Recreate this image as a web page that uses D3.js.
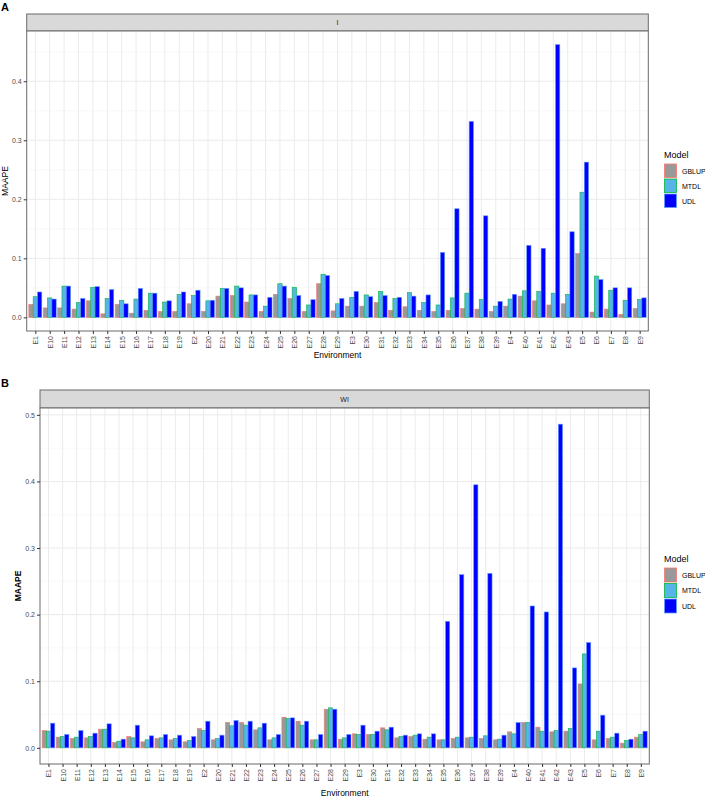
<!DOCTYPE html>
<html>
<head>
<meta charset="utf-8">
<script src="https://cdn.jsdelivr.net/npm/d3@7"></script>
<style>
  html, body { margin: 0; padding: 0; background: #ffffff; }
  svg { display: block; font-family: "Liberation Sans", Arial, sans-serif; }
</style>
</head>
<body>
<svg id="chart" width="705" height="798"></svg>
<script>
// ---------------- DATA ----------------
const environments = ["E1","E10","E11","E12","E13","E14","E15","E16","E17","E18","E19",
  "E2","E20","E21","E22","E23","E24","E25","E26","E27","E28","E29",
  "E3","E30","E31","E32","E33","E34","E35","E36","E37","E38","E39",
  "E4","E40","E41","E42","E43","E5","E6","E7","E8","E9"];
const models = ["GBLUP", "MTDL", "UDL"];

// Panel A: "I"
const gblupI = [0.022,0.016,0.016,0.014,0.028,0.006,0.022,0.007,0.012,0.010,0.010,
  0.023,0.010,0.036,0.037,0.026,0.010,0.039,0.032,0.010,0.057,0.011,
  0.019,0.019,0.025,0.012,0.018,0.012,0.010,0.012,0.015,0.014,0.010,
  0.019,0.036,0.028,0.021,0.023,0.108,0.009,0.014,0.005,0.015];
const mtdlI = [0.035,0.033,0.053,0.025,0.051,0.032,0.029,0.031,0.041,0.026,0.039,
  0.037,0.028,0.049,0.053,0.038,0.019,0.057,0.051,0.021,0.073,0.023,
  0.034,0.038,0.044,0.032,0.042,0.025,0.021,0.033,0.041,0.030,0.019,
  0.031,0.045,0.044,0.041,0.039,0.212,0.070,0.046,0.029,0.030];
const udlI = [0.043,0.031,0.053,0.032,0.052,0.047,0.023,0.049,0.041,0.028,0.043,
  0.046,0.029,0.049,0.050,0.038,0.034,0.053,0.037,0.030,0.071,0.032,
  0.044,0.035,0.037,0.034,0.036,0.038,0.110,0.184,0.332,0.172,0.027,
  0.039,0.122,0.117,0.462,0.145,0.263,0.064,0.050,0.050,0.033];

// Panel B: "WI"
const gblupWI = [0.026,0.016,0.014,0.015,0.028,0.008,0.017,0.009,0.014,0.012,0.009,
  0.029,0.012,0.038,0.038,0.027,0.012,0.046,0.040,0.012,0.058,0.013,
  0.021,0.020,0.030,0.015,0.017,0.013,0.012,0.014,0.015,0.014,0.012,
  0.024,0.038,0.031,0.024,0.025,0.096,0.012,0.014,0.007,0.016];
const mtdlWI = [0.025,0.017,0.016,0.017,0.028,0.010,0.015,0.012,0.015,0.014,0.011,
  0.026,0.014,0.033,0.034,0.030,0.015,0.044,0.034,0.012,0.060,0.015,
  0.020,0.020,0.027,0.017,0.019,0.016,0.012,0.016,0.016,0.018,0.013,
  0.021,0.038,0.025,0.026,0.029,0.141,0.025,0.016,0.011,0.020];
const udlWI = [0.037,0.020,0.026,0.022,0.036,0.013,0.034,0.018,0.020,0.019,0.017,
  0.040,0.019,0.041,0.040,0.037,0.020,0.045,0.040,0.020,0.058,0.020,
  0.034,0.025,0.031,0.019,0.021,0.021,0.190,0.260,0.395,0.262,0.019,
  0.038,0.213,0.204,0.486,0.120,0.158,0.049,0.022,0.013,0.025];

const yTicksI = [0.0, 0.1, 0.2, 0.3, 0.4];
const yTicksWI = [0.0, 0.1, 0.2, 0.3, 0.4, 0.5];

// ---------------- STYLE ----------------
const fills = { GBLUP: "#999999", MTDL: "#56B4E9", UDL: "#0000FF" };
const strokes = { GBLUP: "#F8766D", MTDL: "#00BA38", UDL: "#619CFF" };

const svg = d3.select("#chart");

function drawPanel(opt) {
  const g = svg.append("g");
  const rows = environments.map((e, i) => ({
    env: e,
    vals: [opt.series[0][i], opt.series[1][i], opt.series[2][i]]
  }));
  const maxV = d3.max(rows, r => d3.max(r.vals));
  const x = d3.scalePoint().domain(environments).range([opt.left, opt.right]).padding(0.6);
  const step = x.step();
  const y = d3.scaleLinear().domain([-0.05 * maxV, 1.05 * maxV]).range([opt.bottom, opt.top]);

  // panel label
  g.append("text").attr("x", opt.labelX).attr("y", opt.labelY)
    .attr("font-size", 11).attr("font-weight", "bold").attr("fill", "#000").text(opt.label);

  // strip
  g.append("rect").attr("x", opt.left).attr("y", opt.stripTop)
    .attr("width", opt.right - opt.left).attr("height", opt.top - opt.stripTop)
    .attr("fill", "#D9D9D9").attr("stroke", "#6b6b6b").attr("stroke-width", 1);
  g.append("text").attr("x", (opt.left + opt.right) / 2).attr("y", (opt.stripTop + opt.top) / 2 + 2.5)
    .attr("text-anchor", "middle").attr("font-size", 7).attr("fill", "#1a1a1a").text(opt.strip);

  // panel background
  g.append("rect").attr("x", opt.left).attr("y", opt.top)
    .attr("width", opt.right - opt.left).attr("height", opt.bottom - opt.top).attr("fill", "#fff");

  // minor grid
  const minor = [];
  for (let i = 0; i < opt.yTicks.length; i++) minor.push(opt.yTicks[i] + 0.05);
  g.selectAll(".ymin").data(minor.filter(v => y(v) > opt.top)).enter().append("line")
    .attr("x1", opt.left).attr("x2", opt.right)
    .attr("y1", d => y(d)).attr("y2", d => y(d))
    .attr("stroke", "#F4F4F4").attr("stroke-width", 0.6);
  // major grid
  g.selectAll(".ymaj").data(opt.yTicks).enter().append("line")
    .attr("x1", opt.left).attr("x2", opt.right)
    .attr("y1", d => y(d)).attr("y2", d => y(d))
    .attr("stroke", "#EBEBEB").attr("stroke-width", 1);
  g.selectAll(".xmaj").data(environments).enter().append("line")
    .attr("x1", d => x(d)).attr("x2", d => x(d))
    .attr("y1", opt.top).attr("y2", opt.bottom)
    .attr("stroke", "#EBEBEB").attr("stroke-width", 1);

  // bars
  const bw = step * 0.3;
  const grp = g.selectAll(".grp").data(rows).enter().append("g");
  grp.selectAll("rect").data(r => r.vals.map((v, k) => ({ env: r.env, v: v, m: models[k], k: k })))
    .enter().append("rect")
    .attr("x", d => x(d.env) - 1.5 * bw + d.k * bw)
    .attr("width", bw)
    .attr("y", d => y(d.v))
    .attr("height", d => y(0) - y(d.v))
    .attr("fill", d => fills[d.m])
    .attr("stroke", d => strokes[d.m])
    .attr("stroke-width", 0.6);

  // panel border
  g.append("rect").attr("x", opt.left).attr("y", opt.top)
    .attr("width", opt.right - opt.left).attr("height", opt.bottom - opt.top)
    .attr("fill", "none").attr("stroke", "#6b6b6b").attr("stroke-width", 1);

  // y axis
  const ya = g.append("g").attr("transform", `translate(${opt.left},0)`)
    .call(d3.axisLeft(y).tickValues(opt.yTicks).tickFormat(d3.format(".1f")).tickSize(3).tickPadding(2));
  ya.select(".domain").remove();
  ya.selectAll("line").attr("stroke", "#333");
  ya.selectAll("text").attr("font-size", 7).attr("fill", "#4D4D4D")
    .attr("font-family", "Liberation Sans, Arial, sans-serif");

  // x axis
  const xa = g.append("g").attr("transform", `translate(0,${opt.bottom})`)
    .call(d3.axisBottom(x).tickSize(3).tickPadding(2));
  xa.select(".domain").remove();
  xa.selectAll("line").attr("stroke", "#333");
  xa.selectAll("text")
    .attr("font-size", 7).attr("fill", "#4D4D4D")
    .attr("font-family", "Liberation Sans, Arial, sans-serif")
    .attr("transform", "rotate(-90)")
    .attr("text-anchor", "end")
    .attr("x", -5).attr("y", 0).attr("dy", "0.35em");

  // axis titles
  g.append("text").attr("x", (opt.left + opt.right) / 2).attr("y", opt.xTitleY)
    .attr("text-anchor", "middle").attr("font-size", 8.5).attr("fill", "#000").text("Environment");
  g.append("text").attr("transform", `translate(${opt.yTitleX},${(opt.top + opt.bottom) / 2}) rotate(-90)`)
    .attr("text-anchor", "middle").attr("font-size", 8.5)
    .attr("font-weight", opt.yTitleBold ? "bold" : "normal").attr("fill", "#000").text("MAAPE");

  // legend
  const lg = g.append("g").attr("transform", `translate(${opt.legX},${opt.legY})`);
  lg.append("text").attr("x", 0).attr("y", 0).attr("font-size", 9).attr("fill", "#000").text("Model");
  models.forEach((m, i) => {
    lg.append("rect").attr("x", 0.5).attr("y", 6 + i * opt.legStep)
      .attr("width", 12).attr("height", opt.legStep - 1.5)
      .attr("fill", fills[m]).attr("stroke", strokes[m]).attr("stroke-width", 0.8);
    lg.append("text").attr("x", 18).attr("y", 6 + i * opt.legStep + opt.legStep / 2 + 2)
      .attr("font-size", 7).attr("fill", "#000").text(m);
  });
}

drawPanel({
  label: "A", labelX: 1, labelY: 11, strip: "I",
  left: 26.7, right: 648.3, stripTop: 14, top: 31, bottom: 331,
  series: [gblupI, mtdlI, udlI], yTicks: yTicksI,
  xTitleY: 358, yTitleX: 8, yTitleBold: false,
  legX: 664, legY: 158, legStep: 15
});

drawPanel({
  label: "B", labelX: 1, labelY: 387, strip: "WI",
  left: 40, right: 649.3, stripTop: 390, top: 408, bottom: 764,
  series: [gblupWI, mtdlWI, udlWI], yTicks: yTicksWI,
  xTitleY: 796, yTitleX: 21, yTitleBold: true,
  legX: 664, legY: 562, legStep: 15.5
});
</script>
</body>
</html>
